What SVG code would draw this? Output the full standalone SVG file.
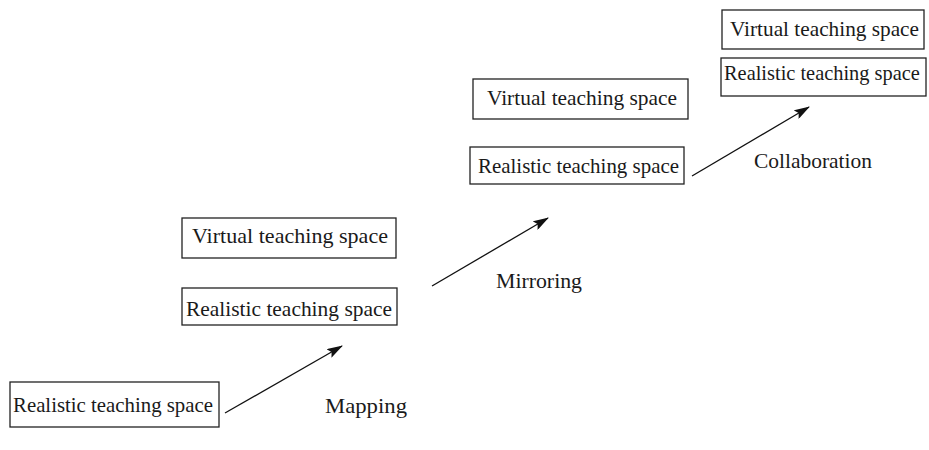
<svg xmlns="http://www.w3.org/2000/svg" width="929" height="450" viewBox="0 0 929 450">
<style>
.box{fill:#fff;stroke:#222;stroke-width:1.3}
.t{font-family:"Liberation Serif","Times New Roman",serif;font-size:22px;fill:#1a1a1a}
.c{stroke:#111;stroke-width:1.3;fill:none;marker-end:url(#ah)}
</style>
<defs>
<marker id="ah" viewBox="0 0 16 10" refX="15" refY="5" markerWidth="16" markerHeight="10" markerUnits="userSpaceOnUse" orient="auto">
<path d="M0,0 L16,5 L0,10 L3,5 Z" fill="#111"/>
</marker>
</defs>
<rect width="929" height="450" fill="#fff"/>
<g id="n1"><rect class="box" x="10" y="382" width="209" height="45"/><text class="t" x="13" y="412" textLength="200" lengthAdjust="spacingAndGlyphs">Realistic teaching space</text></g>
<g id="n2v"><rect class="box" x="182" y="218" width="214" height="40"/><text class="t" x="192" y="243" textLength="196" lengthAdjust="spacingAndGlyphs">Virtual teaching space</text></g>
<g id="n2r"><rect class="box" x="182" y="288" width="215" height="37"/><text class="t" x="186" y="316" textLength="206" lengthAdjust="spacingAndGlyphs">Realistic teaching space</text></g>
<g id="n3v"><rect class="box" x="473" y="79" width="215" height="40"/><text class="t" x="487" y="105" textLength="190" lengthAdjust="spacingAndGlyphs">Virtual teaching space</text></g>
<g id="n3r"><rect class="box" x="470" y="147" width="214" height="37"/><text class="t" x="478" y="173" textLength="201" lengthAdjust="spacingAndGlyphs">Realistic teaching space</text></g>
<g id="n4v"><rect class="box" x="722" y="10" width="202" height="39"/><text class="t" x="730" y="36" textLength="189" lengthAdjust="spacingAndGlyphs">Virtual teaching space</text></g>
<g id="n4r"><rect class="box" x="721" y="58" width="205" height="38"/><text class="t" x="724" y="80" style="font-size:20.4px">Realistic teaching space</text></g>
<g id="connectors">
<line class="c" x1="225" y1="413" x2="342" y2="346"/>
<line class="c" x1="432" y1="286" x2="548" y2="218"/>
<line class="c" x1="692" y1="176" x2="809" y2="107"/>
</g>
<g id="labels">
<text class="t" x="325" y="413" textLength="82" lengthAdjust="spacingAndGlyphs">Mapping</text>
<text class="t" x="496" y="288" textLength="86" lengthAdjust="spacingAndGlyphs">Mirroring</text>
<text class="t" x="754" y="168" textLength="118" lengthAdjust="spacingAndGlyphs">Collaboration</text>
</g>
</svg>
